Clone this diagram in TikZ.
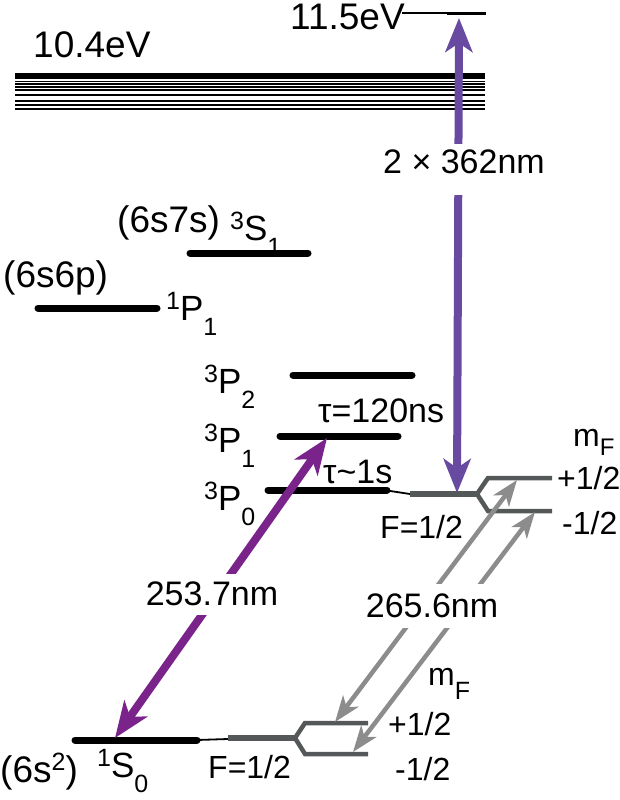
\documentclass[tikz,border=0pt]{standalone}
\usepackage{fontspec}
\setmainfont{Liberation Sans}
\usetikzlibrary{arrows.meta}
\definecolor{vcol}{RGB}{104,75,161}
\definecolor{pcol}{RGB}{122,36,139}
\definecolor{gcol}{RGB}{140,140,140}
\definecolor{lcol}{RGB}{85,88,88}
\newcommand\supx[1]{\raisebox{0.3em}{\fontsize{25}{25}\selectfont #1}}
\newcommand\subx[1]{\raisebox{-0.45em}{\fontsize{25}{25}\selectfont #1}}
\newcommand\subm[1]{\raisebox{-0.3em}{\fontsize{24}{24}\selectfont #1}}
\newcommand\bigf{\fontsize{37}{42}\selectfont}
\newcommand\levf{\fontsize{35}{40}\selectfont}
\newcommand\midf{\fontsize{34}{40}\selectfont}
\newcommand\smlf{\fontsize{32}{38}\selectfont}
\begin{document}
\begin{tikzpicture}[x=1pt,y=-1pt,
  lvl/.style={line width=7pt, line cap=round},
  bandline/.style={line width=1.8pt},
  glvl/.style={lcol, line width=6pt},
  gbr/.style={lcol, line width=4.5pt},
  thinline/.style={line width=1.8pt},
  lab/.style={inner sep=0pt, anchor=base west, font=\levf},
  biglab/.style={inner sep=0pt, anchor=base west, font=\bigf},
  sml/.style={inner sep=0pt, anchor=base west, font=\smlf},
  wl/.style={fill=white, inner xsep=3pt, anchor=base, font=\midf},
  varrow/.style={vcol, line width=8pt, {Stealth[length=34pt,width=27pt,inset=9pt]}-{Stealth[length=34pt,width=27pt,inset=9pt]}},
  parrow/.style={pcol, line width=8pt, {Stealth[length=36pt,width=28pt,inset=10pt]}-{Stealth[length=36pt,width=28pt,inset=10pt]}},
  garrow/.style={gcol, line width=4.5pt, {Stealth[length=26pt,width=19pt,inset=7pt]}-{Stealth[length=26pt,width=19pt,inset=7pt]}},
]
\useasboundingbox (0,0) rectangle (620,800);

% ionisation band
\draw[line width=6.6pt] (15,76) -- (485,76);
\foreach \yy in {81.5,84.3,87.3,90.3,94.7,101,105,109}
  \draw[bandline] (15,\yy) -- (485,\yy);
\node[biglab] (e104) at (33,58) {10.4eV};

% 11.5 eV level
\node[biglab] (e115) at (290,30) {11.5eV};
\draw[line width=1.6pt] (402,13.3) -- (447,13.3);
\draw[line width=3pt] (447,13.3) -- (486,13.3);
\coordinate (top) at (459,18);

% levels
\draw[lvl] (190,253) -- (308,253);
\node[biglab] (s7s) at (117,232) {(6s7s)};
\node[lab] (S1) at (230,240) {\supx{3}S\subx{1}};

\draw[lvl] (38,308) -- (157,308);
\node[biglab] (s6p) at (3,287) {(6s6p)};
\node[lab] (P1s) at (166,320) {\supx{1}P\subx{1}};

\draw[lvl] (293,375) -- (412,375);
\node[lab] (P2) at (204,393) {\supx{3}P\subx{2}};
\node[lab, font=\midf] (tau1) at (318,422) {τ=120ns};

\draw[lvl] (280,436) -- (398,436);
\node[lab] (P1) at (204,452) {\supx{3}P\subx{1}};
\coordinate (p1pt) at (327,438);
\node[lab, font=\midf] (tau0) at (323,483) {τ\textasciitilde 1s};

\draw[lvl] (268,490) -- (387,490);
\node[lab] (P0) at (204,510) {\supx{3}P\subx{0}};
\draw[thinline] (387,490.5) -- (410,494);
\draw[glvl] (410,494) -- (477,494);
\draw[gbr] (477,494) -- (488,478) -- (552,478);
\draw[gbr] (477,494) -- (488,511) -- (552,511);
\coordinate (p0F) at (457,493);
\coordinate (p0a) at (517,480);
\coordinate (p0b) at (535,512);
\node[sml] (F1) at (380,538) {F=1/2};
\node[sml] (mF1) at (573,446) {m\subm{F}};
\node[sml] (pl1) at (557,489) {+1/2};
\node[sml] (mi1) at (562,534) {-1/2};

% ground state
\draw[lvl] (75,740) -- (197,740);
\draw[thinline] (197,740) -- (228,739);
\draw[glvl] (228,738) -- (295,738);
\draw[gbr] (295,738) -- (305,723) -- (368,723);
\draw[gbr] (295,738) -- (305,754) -- (368,754);
\coordinate (s0pt) at (115,738);
\coordinate (s0a) at (335,722);
\coordinate (s0b) at (353,752);
\node[biglab] (s2) at (0,782) {(6s\supx{2})};
\node[lab] (S0) at (97,777) {\supx{1}S\subx{0}};
\node[sml] (F0) at (208,778) {F=1/2};
\node[sml] (mF0) at (428,685) {m\subx{F}};
\node[sml] (pl0) at (388,735) {+1/2};
\node[sml] (mi0) at (395,780) {-1/2};

% transitions
\draw[varrow] (p0F) -- (top);
\draw[parrow] (s0pt) -- (p1pt);
\draw[garrow] (s0a) -- (p0a);
\draw[garrow] (s0b) -- (p0b);

\node[wl, text depth=17pt, inner ysep=5pt] (w362) at (464,173) {2 × 362nm};
\node[wl, text depth=3pt, inner ysep=7pt] (w253) at (212,605) {253.7nm};
\node[wl, text depth=2pt, inner ysep=9pt] (w265) at (432,617) {265.6nm};
\end{tikzpicture}
\end{document}
